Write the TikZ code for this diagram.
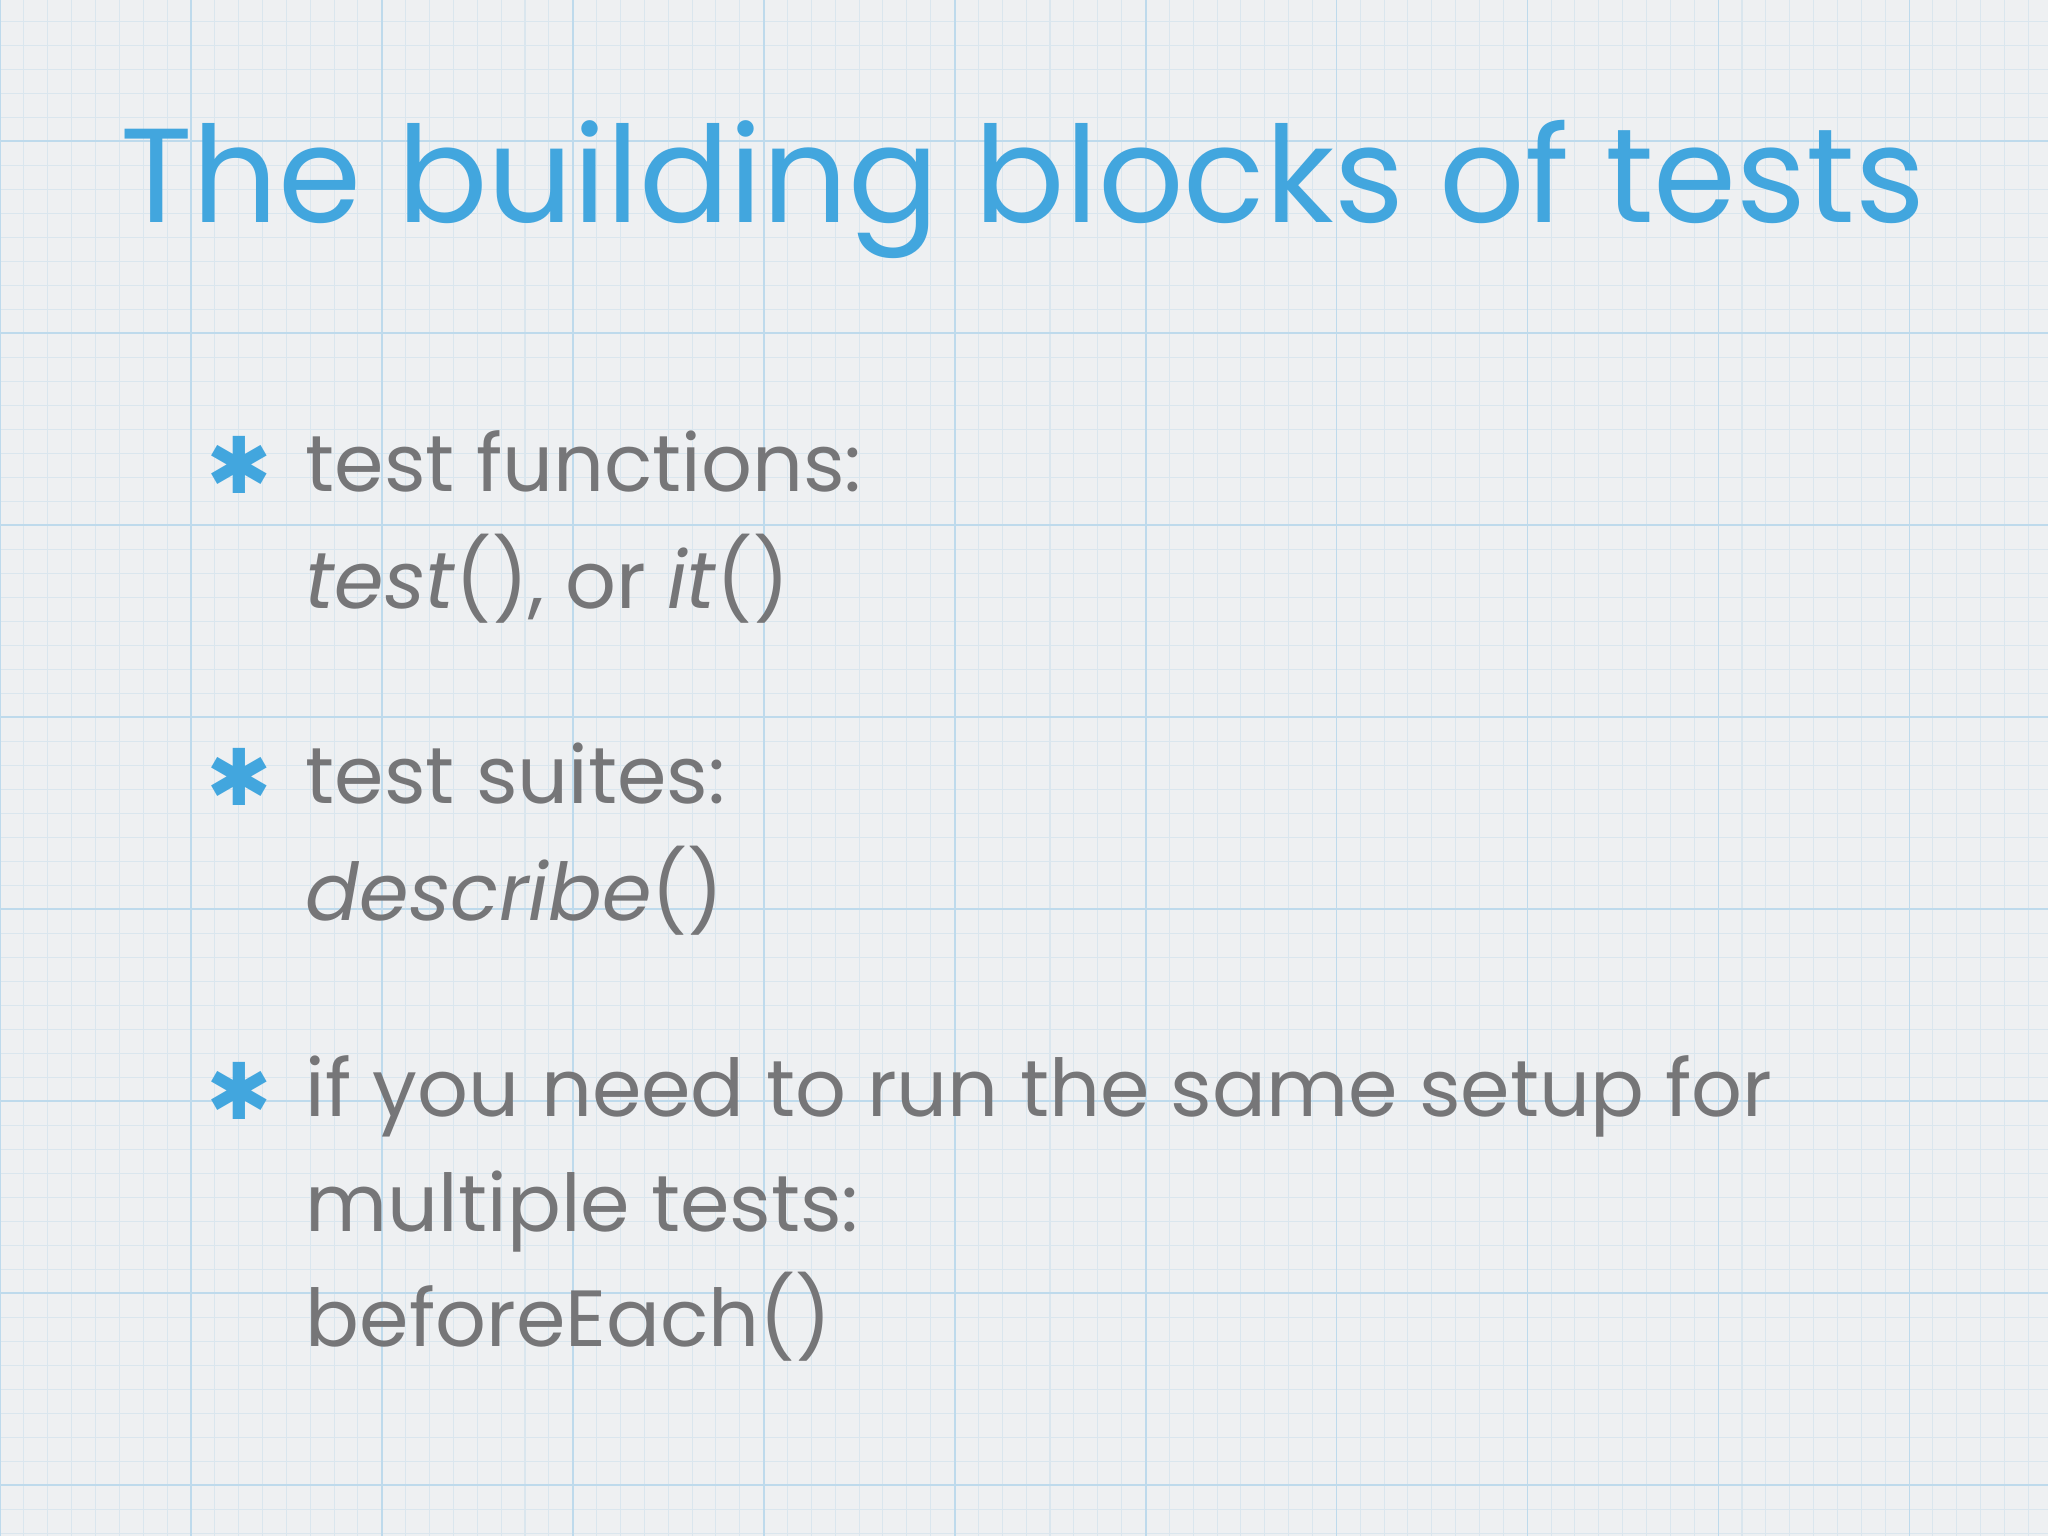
\documentclass[tikz,border=0pt]{standalone}
\usepackage{fontspec}
\setmainfont{Poppins}
\newfontfamily\symfont{DejaVu Sans}
\definecolor{bg}{RGB}{238,240,242}
\definecolor{minor}{RGB}{218,230,238}
\definecolor{major}{RGB}{190,218,236}
\definecolor{ttl}{RGB}{66,166,222}
\definecolor{txt}{RGB}{118,118,120}
\tikzset{
  bodytext/.style={anchor=base west, text=txt, font=\fontsize{61}{90}\selectfont, inner sep=0pt},
  bulletmark/.style={anchor=base west, text=ttl, font=\symfont\bfseries\fontsize{60}{60}\selectfont, inner sep=0pt},
}
\begin{document}
\begin{tikzpicture}[x=1pt,y=-1pt]
\fill[bg] (0,0) rectangle (1568,1176);
\useasboundingbox (0,0) rectangle (1568,1176);
\foreach \i in {0,...,86} {
  \draw[minor, line width=0.8pt] ({\i*18.27},0) -- ({\i*18.27},1176);
}
\foreach \i in {0,...,66} {
  \draw[minor, line width=0.8pt] (0,{-39+\i*18.375}) -- (1568,{-39+\i*18.375});
}
\foreach \i in {0,...,11} {
  \draw[major, line width=1.2pt] ({\i*146.2},0) -- ({\i*146.2},1176);
}
\foreach \i in {0,...,9} {
  \draw[major, line width=1.2pt] (0,{-39+\i*147}) -- (1568,{-39+\i*147});
}
\node[anchor=base west, text=ttl, font=\fontsize{102.5}{120}\selectfont, inner sep=0pt] (title) at (92,170) {The building blocks of tests};

\node[bulletmark] (b1) at (158,378) {✱};
\node[bodytext] (t1a) at (234,376) {test functions:};
\node[bodytext] (t1b) at (234,466) {\textit{test}(), or \textit{it}()};
\node[bulletmark] (b2) at (158,617) {✱};
\node[bodytext] (t2a) at (234,615) {test suites:};
\node[bodytext] (t2b) at (234,705) {\textit{describe}()};
\node[bulletmark] (b3) at (158,857) {✱};
\node[bodytext] (t3a) at (234,855) {if you need to run the same setup for};
\node[bodytext] (t3b) at (234,943) {multiple tests:};
\node[bodytext] (t3c) at (234,1031) {beforeEach()};
\end{tikzpicture}
\end{document}
